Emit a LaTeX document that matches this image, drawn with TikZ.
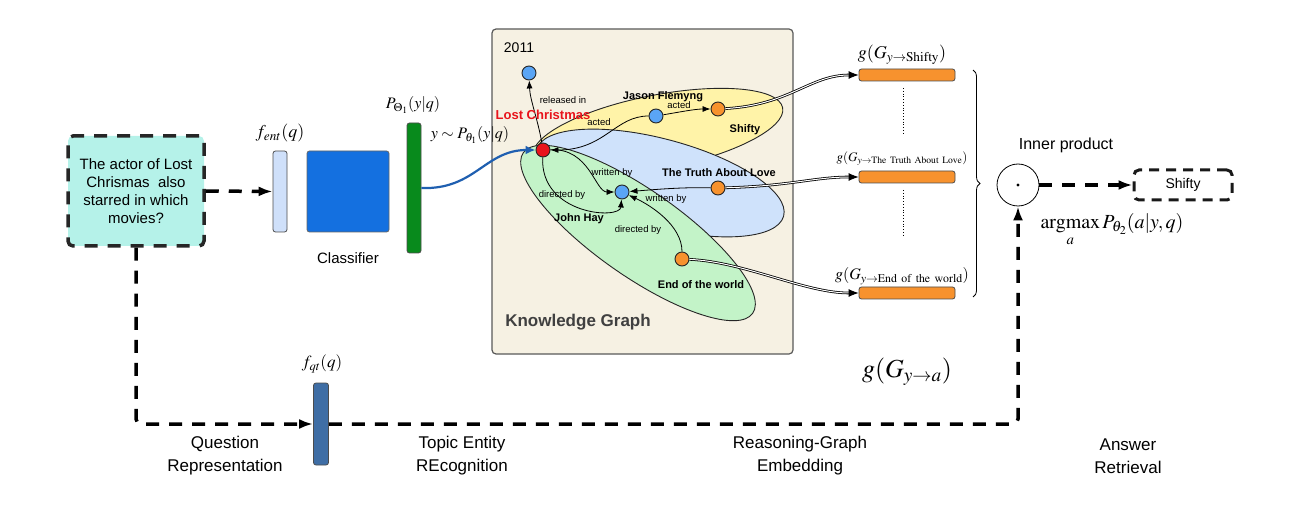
\documentclass[tikz,border=0pt]{standalone}
\usepackage{amsmath,amssymb}
\usepackage{mathptmx}
\usepackage[no-math]{fontspec}
\setmainfont{Liberation Sans}
\usetikzlibrary{arrows.meta,decorations.pathreplacing}

\definecolor{qfill}{RGB}{181,242,233}
\definecolor{entfill}{RGB}{207,224,250}
\definecolor{clsfill}{RGB}{20,112,224}
\definecolor{probfill}{RGB}{8,138,28}
\definecolor{qtfill}{RGB}{63,110,165}
\definecolor{kgfill}{RGB}{246,241,227}
\definecolor{ellyellow}{RGB}{255,243,168}
\definecolor{ellblue}{RGB}{207,226,251}
\definecolor{ellgreen}{RGB}{195,243,200}
\definecolor{nblue}{RGB}{90,165,245}
\definecolor{norange}{RGB}{247,146,46}
\definecolor{nred}{RGB}{232,20,28}
\definecolor{curveblue}{RGB}{31,95,176}

\begin{document}
\begin{tikzpicture}[x=1pt, y=-1pt, every node/.style={font=\fontsize{15}{18}\selectfont},
	>={Latex[length=14pt,width=10pt]},
	dashline/.style={line width=3.5pt, dash pattern=on 13pt off 10pt},
	bar/.style={draw=black!70, rounded corners=2.5pt, line width=0.8pt, inner sep=0pt},
	ent/.style={circle, draw=black!85, line width=0.9pt, minimum size=14pt, inner sep=0pt},
	rel/.style={font=\fontsize{9.5}{11}\selectfont},
	lbl/.style={font=\bfseries\fontsize{11}{13}\selectfont},
	edge/.style={-{Latex[length=8pt,width=6pt]}, line width=0.8pt},
	emb/.style={-{Latex[length=10pt,width=8pt]}, double, double distance=1pt, line width=0.8pt},
	stage/.style={align=center, font=\fontsize{17}{23}\selectfont}]
	\useasboundingbox (0,0) rectangle (1294,513);
	% question and entity recognition
	\node[draw=black!85, fill=qfill, dashline, rounded corners=5pt, minimum width=136pt, minimum height=110pt, align=center] (q) at (136,191) {The actor of Lost\\Chrismas \ also\\starred in which\\movies?};
	\node[bar, fill=entfill, minimum width=14pt, minimum height=81pt] (fent) at (280,191.5) {};
	\node at (280,133) {\fontsize{18}{20}\selectfont$f_{ent}(q)$};
	\node[bar, draw=black!60, fill=clsfill, minimum width=82pt, minimum height=81pt] (cls) at (348,191.5) {};
	\node (clslbl) at (348,258) {Classifier};
	\node[bar, fill=probfill, minimum width=14pt, minimum height=130pt] (prob) at (414,188) {};
	\node at (413,105) {\fontsize{16}{18}\selectfont$P_{\Theta_1}(y|q)$};
	\draw[dashline, ->] (q.east) -- (fent.west);
	% knowledge graph
	\node[draw=black!65, fill=kgfill, rounded corners=4pt, line width=1.2pt, minimum width=301pt, minimum height=325pt] (kg) at (642.5,191.5) {};
	\node at (470,135) {\fontsize{16}{18}\selectfont$y\sim P_{\theta_1}(y|q)$};
	\node[font=\bfseries\fontsize{17}{20}\selectfont, text=black!75] at (578,322) {Knowledge Graph};
	\node[font=\fontsize{14}{16}\selectfont] at (519,48) {2011};
	\draw[black!85, line width=0.9pt, fill=ellyellow] (658,132) ellipse [x radius=127pt, y radius=37pt, rotate=11];
	\draw[black!85, line width=0.9pt, fill=ellblue] (660,183) ellipse [x radius=128pt, y radius=44pt, rotate=-15];
	\draw[black!85, line width=0.9pt, fill=ellgreen] (638,233) ellipse [x radius=140pt, y radius=43pt, rotate=-35];
	\node[ent, fill=nblue] (yr) at (529,73) {};
	\node[ent, fill=nred] (lc) at (543,150) {};
	\node[ent, fill=nblue] (jf) at (656,116) {};
	\node[ent, fill=norange] (sh) at (718,109) {};
	\node[ent, fill=nblue] (jh) at (622,192) {};
	\node[ent, fill=norange] (tl) at (718,188) {};
	\node[ent, fill=norange] (ew) at (682,259) {};
	\draw[edge] (lc) .. controls (538,120) and (530,100) .. (yr);
	\draw[edge] (jf) .. controls (615,116) and (605,150) .. (lc);
	\draw[edge] (jf) .. controls (680,112) and (695,109) .. (sh);
	\draw[edge] (lc) .. controls (590,148) and (595,192) .. (jh);
	\draw[edge] (lc) .. controls (540,215) and (620,220) .. (jh);
	\draw[edge] (tl) .. controls (680,187) and (650,190) .. (jh);
	\draw[edge] (ew) .. controls (682,225) and (650,205) .. (jh);
	\node[rel] at (563,100) {released in};
	\node[rel] at (599,122) {acted};
	\node[rel] at (679,105) {acted};
	\node[rel] at (612,173) {written by};
	\node[rel] at (562,195) {directed by};
	\node[rel] at (666,199) {written by};
	\node[rel] at (638,230) {directed by};
	\node[lbl] at (663,97) {Jason Flemyng};
	\node[lbl] at (745,130) {Shifty};
	\node[lbl] at (719,173) {The Truth About Love};
	\node[lbl] at (579,219) {John Hay};
	\node[lbl] at (701,285) {End of the world};
	\node[font=\bfseries\fontsize{13}{15}\selectfont, text=nred] at (543,115) {Lost Christmas};
	\draw[curveblue, line width=2.2pt, -{Latex[length=10pt,width=9pt]}] (prob.east) .. controls (475,190) and (485,150) .. (lc.west);
	% reasoning-graph embedding
	\node[bar, fill=norange, minimum width=96pt, minimum height=12pt] (bsh) at (907,75) {};
	\node[bar, fill=norange, minimum width=96pt, minimum height=12pt] (btl) at (907,177) {};
	\node[bar, fill=norange, minimum width=96pt, minimum height=12pt] (bew) at (907,293) {};
	\node at (902,55) {\fontsize{18}{20}\selectfont$g(G_{y\to\mathrm{Shifty}})$};
	\node at (902,159) {\fontsize{13}{15}\selectfont$g(G_{y\to\mathrm{The\ Truth\ About\ Love}})$};
	\node at (902,276) {\fontsize{16}{18}\selectfont$g(G_{y\to\mathrm{End\ of\ the\ world}})$};
	\draw[emb] (sh) .. controls (790,105) and (810,75) .. (bsh.west);
	\draw[emb] (tl) .. controls (790,186) and (815,177) .. (btl.west);
	\draw[emb] (ew) .. controls (745,262) and (805,293) .. (bew.west);
	\draw[dotted, line width=0.8pt] (903,88) -- (903,135);
	\draw[dotted, line width=0.8pt] (903,190) -- (903,237);
	\draw[decorate, decoration={brace, amplitude=7pt}, line width=0.8pt] (973,70) -- (973,297);
	\node at (907,372) {\fontsize{26}{28}\selectfont$g(G_{y\to a})$};
	% answer retrieval
	\node[circle, draw, line width=0.8pt, minimum size=42pt, inner sep=0pt] (ip) at (1018,185) {};
	\fill (ip.center) circle (1.6pt);
	\node at (1066,145) {\fontsize{16}{18}\selectfont Inner product};
	\node[draw=black!90, dashline, line width=3pt, dash pattern=on 10pt off 7pt, rounded corners=5pt, minimum width=98pt, minimum height=30pt, font=\fontsize{14}{16}\selectfont] (ans) at (1183,185) {Shifty};
	\draw[dashline, ->] (ip.east) -- (ans.west);
	\node at (1112,230) {\fontsize{20}{22}\selectfont$\displaystyle\mathop{\mathrm{argmax}}_a P_{\theta_2}(a|y,q)$};
	% question representation path
	\node[bar, fill=qtfill, minimum width=15pt, minimum height=82pt] (qt) at (321,424) {};
	\node at (322,364) {\fontsize{17}{19}\selectfont$f_{qt}(q)$};
	\draw[dashline, ->, rounded corners=5pt] (q.south) |- (qt.west);
	\draw[dashline, ->, rounded corners=5pt] (qt.east) -| (ip.south);
	\node[stage] at (225,456) {Question\\Representation};
	\node[stage] at (462,456) {Topic Entity\\REcognition};
	\node[stage] at (800,456) {Reasoning-Graph\\Embedding};
	\node[stage] at (1128,456) {Answer\\Retrieval};
\end{tikzpicture}
\end{document}
